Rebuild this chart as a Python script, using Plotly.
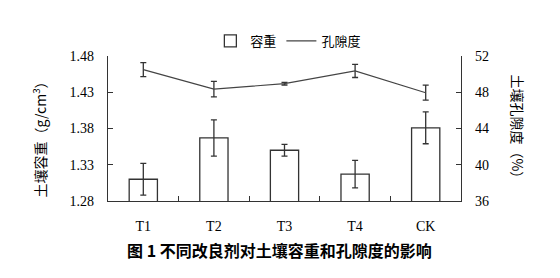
import plotly.graph_objects as go

categories = ["T1", "T2", "T3", "T4", "CK"]
bulk_density = [1.310, 1.367, 1.350, 1.317, 1.381]
bulk_err = [0.022, 0.025, 0.008, 0.019, 0.022]
porosity = [50.5, 48.35, 48.95, 50.35, 47.95]
porosity_err = [0.77, 0.85, 0.15, 0.72, 0.83]
left_ticks = [1.28, 1.33, 1.38, 1.43, 1.48]
right_ticks = [36, 40, 44, 48, 52]

serif = "Liberation Serif, Times New Roman, serif"
cjk = "Noto Sans CJK SC, sans-serif"
axc = "#333333"

fig = go.Figure()
fig.add_trace(go.Bar(
    x=categories, y=bulk_density, name="容重", width=0.4,
    base=0,
    marker=dict(color="white", line=dict(color=axc, width=1.3)),
    error_y=dict(type="data", array=bulk_err, color=axc, thickness=1.3, width=3),
))
fig.add_trace(go.Scatter(
    x=categories, y=porosity, name="孔隙度", yaxis="y2", mode="lines",
    line=dict(color="#444444", width=1.2),
    error_y=dict(type="data", array=porosity_err, color=axc, thickness=1.3, width=3),
))

fig.update_layout(
    width=560, height=278,
    margin=dict(l=108, r=99, t=56, b=77),
    plot_bgcolor="white", paper_bgcolor="white",
    showlegend=True,
    legend=dict(orientation="h", x=0.29, y=1.0, yanchor="bottom", xanchor="left",
                font=dict(family=cjk, size=13, color="black"),
                bgcolor="rgba(0,0,0,0)", itemwidth=30, tracegroupgap=0),
    xaxis=dict(
        type="category", range=[-0.5, 4.5], showline=True, linecolor=axc, linewidth=1.3,
        ticks="inside", tickson="boundaries", ticklen=5, tickcolor=axc, tickwidth=1.3,
        tickfont=dict(family=serif, size=14, color="black"), ticklabelstandoff=12,
        mirror=False, showgrid=False,
    ),
    yaxis=dict(
        range=[1.28, 1.48], tickvals=left_ticks, ticktext=[f"{v:.2f}" for v in left_ticks],
        showline=True, linecolor=axc, linewidth=1.3, ticks="inside", ticklen=5,
        tickcolor=axc, tickwidth=1.3, showgrid=False, zeroline=False,
        tickfont=dict(family=serif, size=14, color="black"), ticklabelstandoff=10,
    ),
    yaxis2=dict(
        range=[36, 52], tickvals=right_ticks, overlaying="y", side="right",
        showline=True, linecolor=axc, linewidth=1.3, ticks="inside", ticklen=5,
        tickcolor=axc, tickwidth=1.3, showgrid=False, zeroline=False,
        tickfont=dict(family=serif, size=14, color="black"), ticklabelstandoff=10,
    ),
    annotations=[
        dict(text="土壤容重（g/cm<sup>3</sup>）", xref="paper", yref="paper",
             x=-0.193, y=0.45, xanchor="center", yanchor="middle", textangle=-90, showarrow=False,
             font=dict(family=cjk, size=14, color="black")),
        dict(text="土壤孔隙度（%）", xref="paper", yref="paper",
             x=1.163, y=0.49, xanchor="center", yanchor="middle", textangle=90, showarrow=False,
             font=dict(family=cjk, size=14, color="black")),
        dict(text="<b>图 1 不同改良剂对土壤容重和孔隙度的影响</b>", xref="paper", yref="paper",
             x=0.487, y=-0.338, xanchor="center", yanchor="middle", showarrow=False,
             font=dict(family=cjk, size=16, color="black")),
    ],
)

fig.write_html("out.html")
